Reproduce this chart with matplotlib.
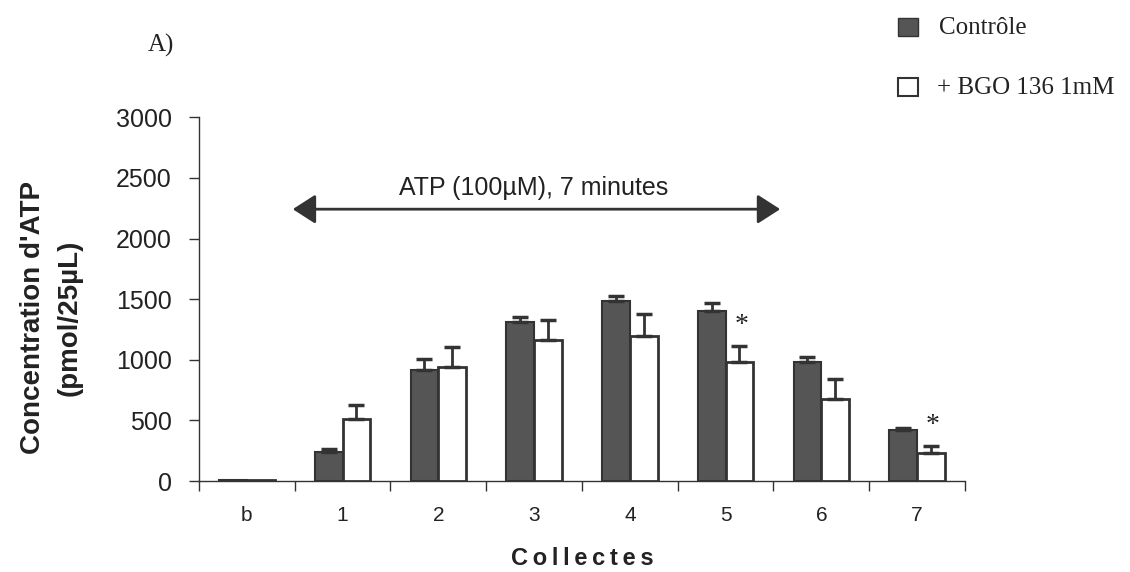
import matplotlib
matplotlib.use("Agg")
import matplotlib.pyplot as plt
from matplotlib.patches import Rectangle
import numpy as np

categories = ["b", "1", "2", "3", "4", "5", "6", "7"]
controle = [5, 240, 915, 1310, 1485, 1405, 980, 425]
controle_err = [0, 25, 90, 40, 40, 60, 40, 15]
bgo = [5, 510, 940, 1160, 1195, 980, 675, 230]
bgo_err = [0, 115, 165, 165, 180, 130, 165, 60]
significant = [False, False, False, False, False, True, False, True]
legend_labels = ["Contrôle", "+ BGO 136 1mM"]

fig = plt.figure(figsize=(11.3, 5.72), dpi=100)
ax = fig.add_axes([0.176, 0.159, 0.678, 0.636])

x = np.arange(len(categories))
w = 0.29
dark = "#555555"
edge = "#333333"
ax.bar(x - w / 2, controle, width=w, color=dark, edgecolor=edge, linewidth=1.5, zorder=3)
ax.bar(x + w / 2, bgo, width=w, color="white", edgecolor=edge, linewidth=2, zorder=3)

for xi, v, e in zip(x - w / 2, controle, controle_err):
    if e > 0:
        ax.errorbar(xi, v, yerr=[[0], [e]], fmt="none", ecolor=edge, elinewidth=2, capsize=6, capthick=2.5, zorder=4)
for xi, v, e in zip(x + w / 2, bgo, bgo_err):
    if e > 0:
        ax.errorbar(xi, v, yerr=[[0], [e]], fmt="none", ecolor=edge, elinewidth=2, capsize=6, capthick=2.5, zorder=4)

for xi, v, e, s in zip(x + w / 2, bgo, bgo_err, significant):
    if s:
        ax.text(xi + 0.02, v + e + 170, "*", ha="center", va="center", fontsize=20, color="#222222",
                family="Liberation Serif")

ax.set_xlim(-0.5, len(categories) - 0.5)
ax.set_ylim(0, 3000)
ax.set_yticks(np.arange(0, 3001, 500))
ax.set_yticklabels([str(t) for t in range(0, 3001, 500)], fontsize=18, family="Liberation Sans", color="#222222")
ax.set_xticks(x)
ax.set_xticklabels(categories, fontsize=15, family="Liberation Sans", color="#222222")
ax.set_xticks(np.arange(-0.5, len(categories), 1), minor=True)
ax.tick_params(axis="x", which="major", length=0, pad=18)
ax.tick_params(axis="x", which="minor", length=7, direction="out", width=1, color=edge)
ax.tick_params(axis="y", length=7.5, width=1, color=edge, pad=12)
for sp in ["top", "right"]:
    ax.spines[sp].set_visible(False)
for sp in ["left", "bottom"]:
    ax.spines[sp].set_color(edge)
    ax.spines[sp].set_linewidth(1)

ax.set_ylabel("Concentration d'ATP\n(pmol/25µL)", fontsize=20, fontweight="bold", family="Liberation Sans",
              color="#222222", linespacing=1.5)
ax.yaxis.set_label_coords(-0.152, 0.45)
ax.set_xlabel("\u2009".join("Collectes"), fontsize=17, fontweight="bold",
              family=["Liberation Sans", "DejaVu Sans"], color="#222222", labelpad=16)

ax.annotate("", xy=(0.48, 2242), xytext=(5.57, 2242),
            arrowprops=dict(arrowstyle="<|-|>,head_length=0.7,head_width=0.45", color=edge, lw=2,
                            mutation_scale=20, shrinkA=0, shrinkB=0))
ax.text(3.0, 2415, "ATP (100µM), 7 minutes", ha="center", va="center", fontsize=18,
        family="Liberation Sans", color="#222222")

fig.text(0.131, 0.92, "A)", fontsize=18, family="Liberation Serif", color="#222222", va="center")

# legend (manual, in figure pixel coordinates converted to fractions)
W, H = 1130, 572
fig.add_artist(Rectangle((898 / W, 1 - 36 / H), 20 / W, 18 / H, transform=fig.transFigure,
                         facecolor=dark, edgecolor=edge, linewidth=1))
fig.add_artist(Rectangle((898 / W, 1 - 96 / H), 20 / W, 18 / H, transform=fig.transFigure,
                         facecolor="white", edgecolor=edge, linewidth=1.5))
fig.text(939 / W, 1 - 28 / H, legend_labels[0], fontsize=18, family="Liberation Serif", color="#222222",
         va="center", ha="left")
fig.text(937 / W, 1 - 88 / H, legend_labels[1], fontsize=18, family="Liberation Serif", color="#222222",
         va="center", ha="left")

fig.savefig("out.png", dpi=100)
